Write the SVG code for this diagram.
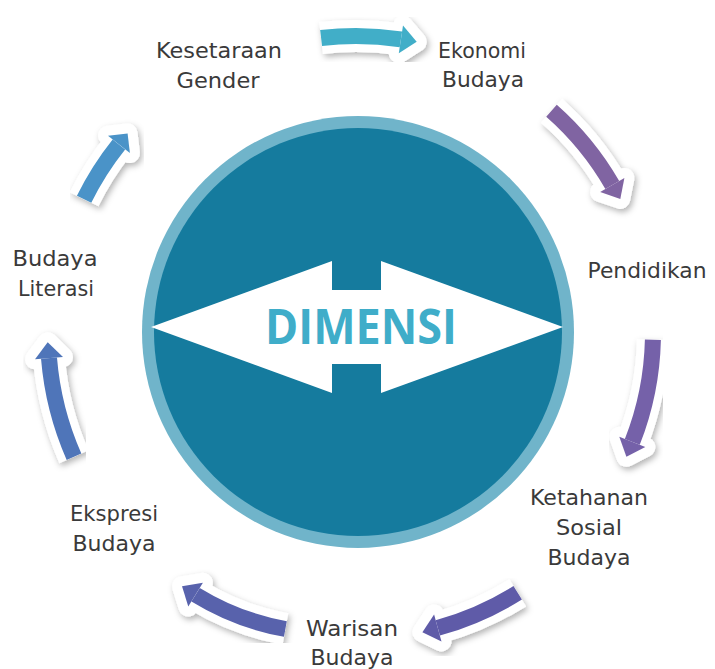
<svg xmlns="http://www.w3.org/2000/svg" width="715" height="669" viewBox="0 0 715 669">
<defs>
<filter id="sh" x="-30%" y="-30%" width="160%" height="160%">
<feDropShadow dx="2" dy="3" stdDeviation="3" flood-color="#000" flood-opacity="0.3"/>
</filter>
</defs>
<style>
.lbl{font-family:"DejaVu Sans","Liberation Sans",sans-serif;font-size:21px;fill:#3a3a3a;text-anchor:middle}
.ob{fill:none;stroke:#fff;stroke-width:32;stroke-linejoin:round}
.oh{fill:#fff;stroke:#fff;stroke-width:20;stroke-linejoin:round}
.ib{fill:none;stroke-width:16}
</style>
<rect width="715" height="669" fill="#fff"/>
<g id="center">
<circle cx="358" cy="332" r="216" fill="#70B4CA"/>
<circle cx="358" cy="332" r="204" fill="#157B9E"/>
<polygon points="151,327 332,261 332,290 381,290 381,261 563,327 381,393 381,364 332,364 332,393" fill="#fff"/>
<text x="361" y="344" font-family="'Open Sans','Noto Sans',sans-serif" font-weight="700" font-size="48" fill="#3FADC9" text-anchor="middle" textLength="192" lengthAdjust="spacingAndGlyphs">DIMENSI</text>
</g>
<g id="connectors">
<g id="a1">
<g filter="url(#sh)"><path class="ob" d="M321.1,38 Q361.1,33.3 400.9,39.4"/><polygon class="oh" points="403,25.6 416.7,41.8 398.8,53.2"/></g>
<path class="ib" stroke="#41AEC8" d="M321.1,38 Q361.1,33.3 400.9,39.4"/><polygon fill="#41AEC8" points="403,25.6 416.7,41.8 398.8,53.2"/>
</g>
<g id="a2">
<g filter="url(#sh)"><path class="ob" d="M551.5,110.7 Q588,142.8 612.3,185"/><polygon class="oh" points="624.4,178 620.3,198.9 600.2,192"/></g>
<path class="ib" stroke="#8064A2" d="M551.5,110.7 Q588,142.8 612.3,185"/><polygon fill="#8064A2" points="624.4,178 620.3,198.9 600.2,192"/>
</g>
<g id="a3">
<g filter="url(#sh)"><path class="ob" d="M652.9,339.7 Q651.7,392.6 632.3,441.9"/><polygon class="oh" points="645.3,447 626.4,456.8 619.3,436.8"/></g>
<path class="ib" stroke="#7561A9" d="M652.9,339.7 Q651.7,392.6 632.3,441.9"/><polygon fill="#7561A9" points="645.3,447 626.4,456.8 619.3,436.8"/>
</g>
<g id="a4">
<g filter="url(#sh)"><path class="ob" d="M517.7,592.8 Q480.3,616.1 437.8,627.9"/><polygon class="oh" points="441.5,641.4 422.4,632.2 434.1,614.4"/></g>
<path class="ib" stroke="#5F5BA8" d="M517.7,592.8 Q480.3,616.1 437.8,627.9"/><polygon fill="#5F5BA8" points="441.5,641.4 422.4,632.2 434.1,614.4"/>
</g>
<g id="a5">
<g filter="url(#sh)"><path class="ob" d="M285.4,629 Q237.5,620.4 195.6,594.7"/><polygon class="oh" points="188.3,606.6 182,586.3 202.9,582.8"/></g>
<path class="ib" stroke="#5862AC" d="M285.4,629 Q237.5,620.4 195.6,594.7"/><polygon fill="#5862AC" points="188.3,606.6 182,586.3 202.9,582.8"/>
</g>
<g id="a6">
<g filter="url(#sh)"><path class="ob" d="M74,456.8 Q53.2,409.6 49,358.2"/><polygon class="oh" points="35,359.3 47.7,342.3 63,357.1"/></g>
<path class="ib" stroke="#4F75B9" d="M74,456.8 Q53.2,409.6 49,358.2"/><polygon fill="#4F75B9" points="35,359.3 47.7,342.3 63,357.1"/>
</g>
<g id="a7">
<g filter="url(#sh)"><path class="ob" d="M84.1,199.2 Q98.5,169.9 118.9,144.4"/><polygon class="oh" points="108,135.7 127.6,133.4 129.9,153.1"/></g>
<path class="ib" stroke="#4A93C8" d="M84.1,199.2 Q98.5,169.9 118.9,144.4"/><polygon fill="#4A93C8" points="108,135.7 127.6,133.4 129.9,153.1"/>
</g>
</g>
<g id="n-kesetaraan"><text class="lbl" x="219" y="58" textLength="126" lengthAdjust="spacingAndGlyphs">Kesetaraan</text><text class="lbl" x="218" y="88" textLength="83" lengthAdjust="spacingAndGlyphs">Gender</text></g>
<g id="n-ekonomi"><text class="lbl" x="482" y="58" textLength="88" lengthAdjust="spacingAndGlyphs">Ekonomi</text><text class="lbl" x="483" y="87" textLength="82" lengthAdjust="spacingAndGlyphs">Budaya</text></g>
<g id="n-pendidikan"><text class="lbl" x="647" y="278" textLength="119" lengthAdjust="spacingAndGlyphs">Pendidikan</text></g>
<g id="n-ketahanan"><text class="lbl" x="589" y="505" textLength="118" lengthAdjust="spacingAndGlyphs">Ketahanan</text><text class="lbl" x="589" y="535" textLength="66" lengthAdjust="spacingAndGlyphs">Sosial</text><text class="lbl" x="589" y="565" textLength="83" lengthAdjust="spacingAndGlyphs">Budaya</text></g>
<g id="n-warisan"><text class="lbl" x="352" y="636" textLength="92" lengthAdjust="spacingAndGlyphs">Warisan</text><text class="lbl" x="352" y="665" textLength="83" lengthAdjust="spacingAndGlyphs">Budaya</text></g>
<g id="n-ekspresi"><text class="lbl" x="114" y="521" textLength="88" lengthAdjust="spacingAndGlyphs">Ekspresi</text><text class="lbl" x="114" y="551" textLength="83" lengthAdjust="spacingAndGlyphs">Budaya</text></g>
<g id="n-literasi"><text class="lbl" x="55" y="266" textLength="85" lengthAdjust="spacingAndGlyphs">Budaya</text><text class="lbl" x="56" y="296" textLength="76" lengthAdjust="spacingAndGlyphs">Literasi</text></g>
</svg>
